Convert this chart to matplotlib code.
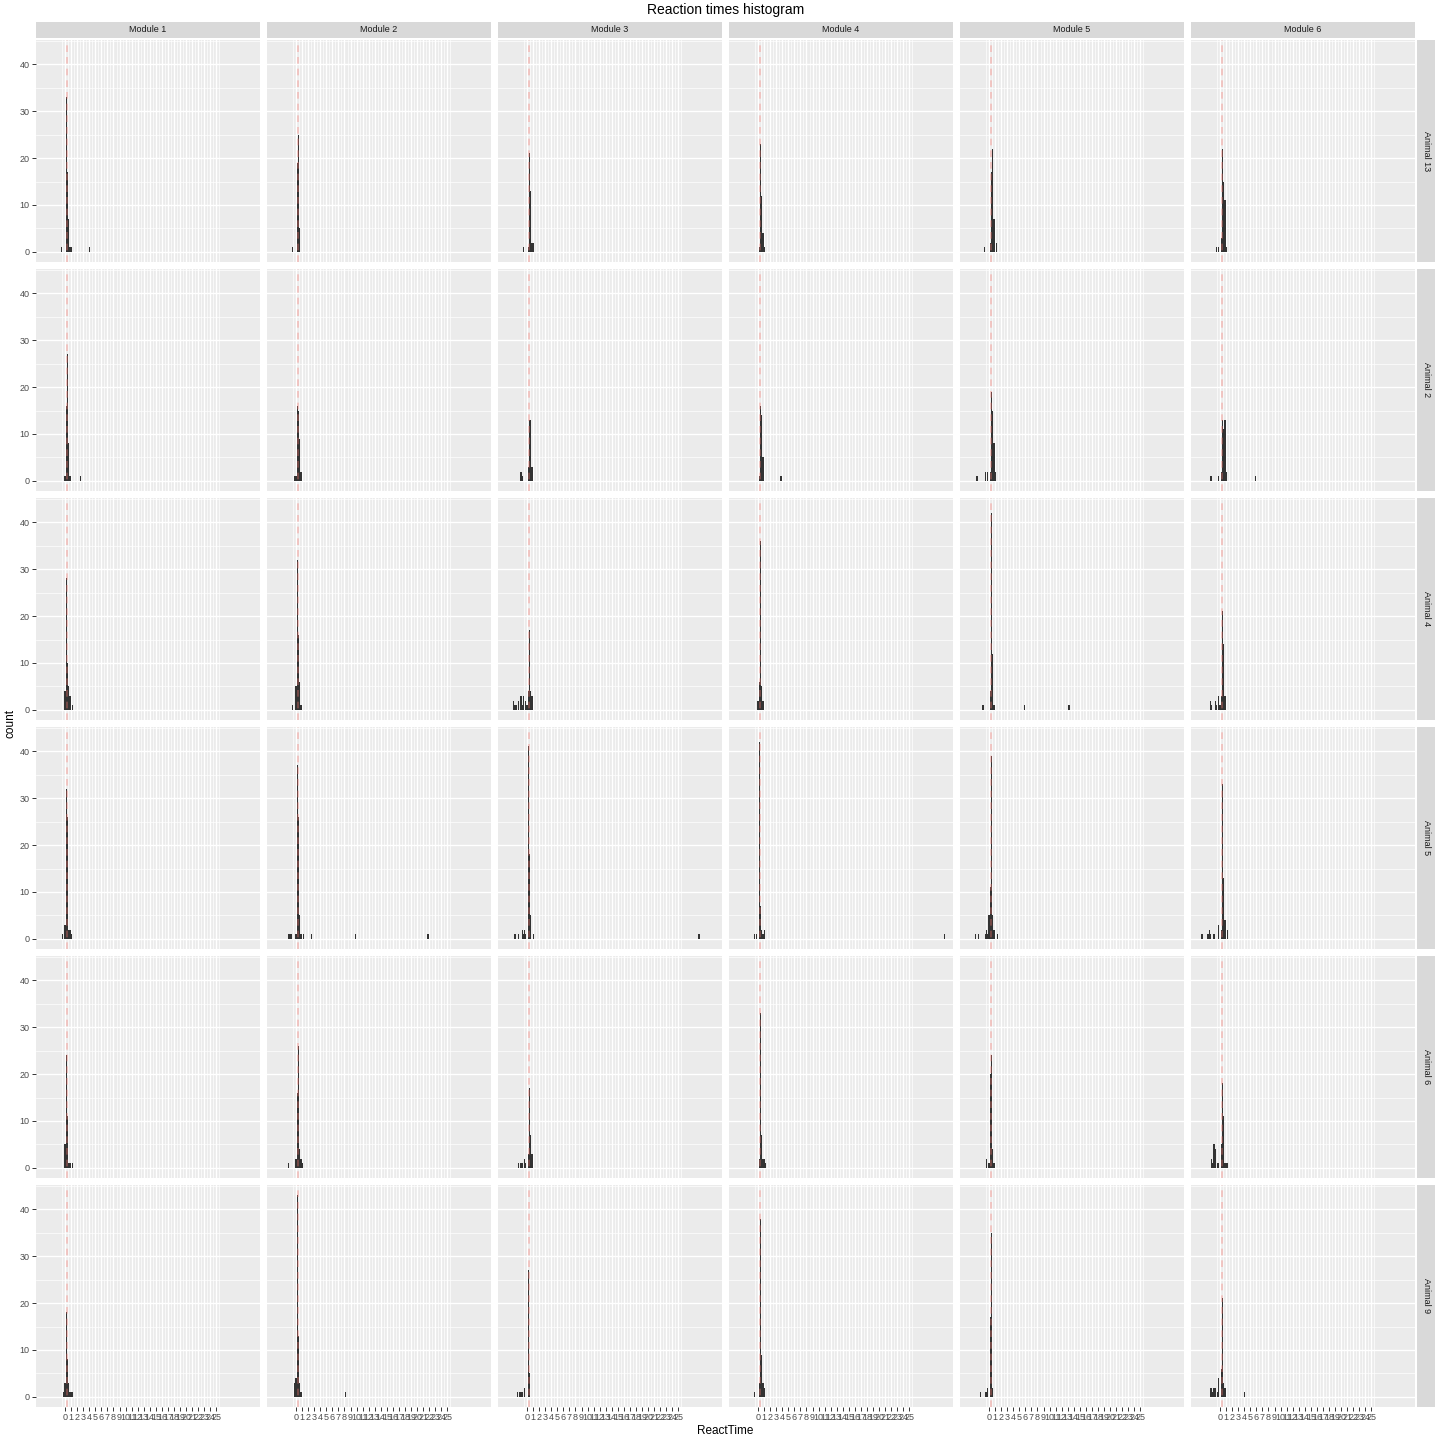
import matplotlib
matplotlib.use("Agg")
import matplotlib.pyplot as plt
import numpy as np

plt.rcParams["font.family"] = ["Liberation Sans", "DejaVu Sans"]

modules = ["Module 1", "Module 2", "Module 3", "Module 4", "Module 5", "Module 6"]
animals = ["Animal 13", "Animal 2", "Animal 4", "Animal 5", "Animal 6", "Animal 9"]
binwidth = 0.2
vline_x = 0.25
x_breaks = list(range(0, 26))
y_breaks = [0, 10, 20, 30, 40]

# (bin left edge, count) per module, one list per animal
animal13 = [
    [(-0.7, 1), (0.1, 33), (0.3, 17), (0.5, 7), (0.7, 1), (0.9, 1), (3.9, 1)],
    [(-0.7, 1), (0.1, 19), (0.3, 25), (0.5, 5)],
    [(-0.7, 1), (0.1, 1), (0.3, 21), (0.5, 13), (0.7, 2), (0.9, 2)],
    [(0.1, 1), (0.3, 23), (0.5, 12), (0.7, 4), (0.9, 1)],
    [(-0.9, 1), (0.1, 2), (0.3, 17), (0.5, 22), (0.7, 7), (1.1, 2)],
    [(-0.7, 1), (-0.3, 1), (0.1, 3), (0.3, 22), (0.5, 15), (0.7, 11), (0.9, 1)],
]
animal2 = [
    [(-0.1, 1), (0.1, 16), (0.3, 27), (0.5, 8), (0.7, 1), (2.5, 1)],
    [(-0.3, 1), (-0.1, 1), (0.1, 16), (0.3, 15), (0.5, 9), (0.7, 2)],
    [(-1.1, 2), (-0.9, 1), (0.1, 3), (0.3, 13), (0.5, 13), (0.7, 3)],
    [(0.1, 1), (0.3, 16), (0.5, 14), (0.7, 5), (3.7, 1)],
    [(-2.1, 1), (-0.7, 2), (-0.3, 2), (0.1, 2), (0.3, 19), (0.5, 15), (0.7, 8), (0.9, 2)],
    [(-1.7, 1), (-1.5, 1), (-0.3, 1), (0.1, 2), (0.3, 13), (0.5, 11), (0.7, 13), (0.9, 2), (5.7, 1)],
]
animal4 = [
    [(-0.1, 4), (0.1, 28), (0.3, 10), (0.5, 5), (0.7, 3), (1.1, 1)],
    [(-0.7, 1), (-0.1, 5), (0.1, 32), (0.3, 16), (0.5, 6), (0.7, 1)],
    [(-2.3, 2), (-2.1, 1), (-1.9, 1), (-1.5, 2), (-1.1, 3), (-0.9, 1), (-0.7, 3),
     (-0.3, 2), (-0.1, 1), (0.1, 4), (0.3, 17), (0.5, 4), (0.7, 3)],
    [(-0.1, 2), (0.1, 6), (0.3, 36), (0.5, 5), (0.7, 2)],
    [(-1.1, 1), (0.1, 4), (0.3, 42), (0.5, 12), (0.7, 1), (5.7, 1), (13.1, 1)],
    [(-1.7, 2), (-1.5, 1), (-0.9, 2), (-0.7, 1), (-0.3, 3), (-0.1, 1), (0.1, 3),
     (0.3, 21), (0.5, 14), (0.7, 3)],
]
animal5 = [
    [(-0.5, 1), (-0.1, 3), (0.1, 32), (0.3, 26), (0.5, 2), (0.7, 2), (0.9, 1)],
    [(-1.3, 1), (-1.1, 1), (-0.9, 1), (-0.1, 1), (0.1, 37), (0.3, 26), (0.5, 5),
     (0.7, 1), (1.1, 1), (2.5, 1), (9.7, 1), (21.7, 1)],
    [(-2.1, 1), (-1.5, 1), (-0.9, 2), (-0.7, 1), (-0.5, 2), (-0.3, 1), (0.1, 41),
     (0.3, 18), (0.5, 5), (0.9, 1), (28.3, 1)],
    [(-0.7, 1), (-0.3, 1), (0.1, 42), (0.3, 7), (0.5, 2), (0.7, 1), (0.9, 2), (30.7, 1)],
    [(-2.3, 1), (-1.9, 1), (-0.7, 1), (-0.5, 2), (-0.3, 1), (-0.1, 5), (0.1, 11),
     (0.3, 39), (0.5, 5), (0.7, 2), (1.3, 1)],
    [(-3.1, 1), (-2.1, 1), (-1.9, 2), (-1.7, 1), (-1.1, 1), (-0.3, 3), (0.1, 2),
     (0.3, 33), (0.5, 13), (0.7, 4), (1.1, 2)],
]
animal6 = [
    [(-0.1, 5), (0.1, 24), (0.3, 11), (0.5, 1), (0.7, 1), (1.1, 1)],
    [(-1.3, 1), (-0.1, 2), (0.1, 16), (0.3, 26), (0.5, 4), (0.7, 2), (0.9, 1)],
    [(-1.5, 1), (-1.1, 1), (-0.9, 1), (-0.5, 2), (-0.3, 1), (0.1, 3), (0.3, 17),
     (0.5, 7), (0.7, 3)],
    [(0.1, 2), (0.3, 33), (0.5, 7), (0.7, 2), (0.9, 2), (1.1, 1)],
    [(-0.5, 2), (-0.1, 1), (0.1, 20), (0.3, 24), (0.5, 4), (0.7, 1)],
    [(-1.5, 2), (-1.3, 1), (-1.1, 5), (-0.9, 4), (-0.5, 1), (-0.3, 1), (0.1, 5),
     (0.3, 18), (0.5, 11), (0.7, 1), (0.9, 1), (1.1, 1)],
]
animal9 = [
    [(-0.3, 1), (-0.1, 3), (0.1, 18), (0.3, 8), (0.5, 3), (0.7, 1), (0.9, 1), (1.1, 1)],
    [(-0.3, 3), (-0.1, 4), (0.1, 43), (0.3, 13), (0.5, 3), (0.7, 1), (8.1, 1)],
    [(-1.7, 1), (-1.3, 1), (-1.1, 1), (-0.9, 1), (-0.5, 2), (0.1, 27), (0.3, 5)],
    [(-0.7, 1), (0.1, 3), (0.3, 38), (0.5, 9), (0.7, 3), (0.9, 2)],
    [(-1.5, 1), (-0.7, 1), (-0.5, 1), (-0.3, 2), (0.1, 17), (0.3, 35), (0.5, 2)],
    [(-1.7, 2), (-1.5, 2), (-1.3, 1), (-1.1, 2), (-0.9, 2), (-0.5, 1), (-0.3, 4),
     (0.1, 6), (0.3, 21), (0.5, 3), (0.7, 2), (3.9, 1)],
]
rows = [animal13, animal2, animal4, animal5, animal6, animal9]

W = H = 1440
fig = plt.figure(figsize=(W / 100, H / 100), dpi=100)
fig.patch.set_facecolor("white")

left0, top0 = 36, 40
pw, ph, gap = 224, 222, 7
strip_h, strip_w = 16, 18


def px_axes(x, y, w, h):
    return fig.add_axes([x / W, 1 - (y + h) / H, w / W, h / H])


for r, animal in enumerate(animals):
    for c, module in enumerate(modules):
        x0 = left0 + c * (pw + gap)
        y0 = top0 + r * (ph + gap)
        ax = px_axes(x0, y0, pw, ph)
        ax.set_facecolor("#EBEBEB")
        ax.set_xlim(-4.8, 32.2)
        ax.set_ylim(-2.15, 45.15)
        ax.set_xticks(x_breaks)
        ax.set_xticks(np.arange(-0.5, 26, 1.0), minor=True)
        ax.set_yticks(y_breaks)
        ax.set_yticks([5, 15, 25, 35, 45], minor=True)
        ax.grid(which="major", color="white", linewidth=1.0)
        ax.grid(which="minor", color="white", linewidth=0.5)
        ax.set_axisbelow(True)
        for s in ax.spines.values():
            s.set_visible(False)
        ax.tick_params(which="minor", length=0)
        ax.tick_params(which="major", length=3, width=0.7, color="#333333",
                       labelsize=6.5, labelcolor="#4D4D4D", pad=1.5)
        if c != 0:
            ax.tick_params(axis="y", left=False, labelleft=False)
        if r != len(animals) - 1:
            ax.tick_params(axis="x", bottom=False, labelbottom=False)

        data = rows[r][c]
        xs = [d[0] for d in data]
        cnt = [d[1] for d in data]
        ax.bar(xs, cnt, width=binwidth, align="edge", color="#333333",
               linewidth=0, zorder=2)
        ax.axvline(vline_x, color="#F8766D", alpha=0.4, linewidth=1.2,
                   linestyle=(0, (4, 3)), zorder=3)

        if r == 0:
            sa = px_axes(x0, y0 - strip_h - 2, pw, strip_h)
            sa.set_facecolor("#D9D9D9")
            sa.set_xticks([]); sa.set_yticks([])
            for s in sa.spines.values():
                s.set_visible(False)
            sa.text(0.5, 0.5, module, ha="center", va="center", fontsize=6.5,
                    color="#1A1A1A", transform=sa.transAxes)
        if c == len(modules) - 1:
            sa = px_axes(x0 + pw + 2, y0, strip_w, ph)
            sa.set_facecolor("#D9D9D9")
            sa.set_xticks([]); sa.set_yticks([])
            for s in sa.spines.values():
                s.set_visible(False)
            sa.text(0.5, 0.5, animal, ha="center", va="center", fontsize=6.5,
                    color="#1A1A1A", rotation=-90, transform=sa.transAxes)

total_w = 6 * pw + 5 * gap
total_h = 6 * ph + 5 * gap
cx = (left0 + total_w / 2) / W
fig.text(cx, 1 - 10 / H, "Reaction times histogram", ha="center", va="center",
         fontsize=10, color="black")
fig.text(cx, 1 - 1431 / H, "ReactTime", ha="center", va="center", fontsize=8.5)
fig.text(10 / W, 1 - (top0 + total_h / 2) / H, "count", ha="center", va="center",
         rotation=90, fontsize=8.5)

fig.savefig("out.png", dpi=100, facecolor="white")
